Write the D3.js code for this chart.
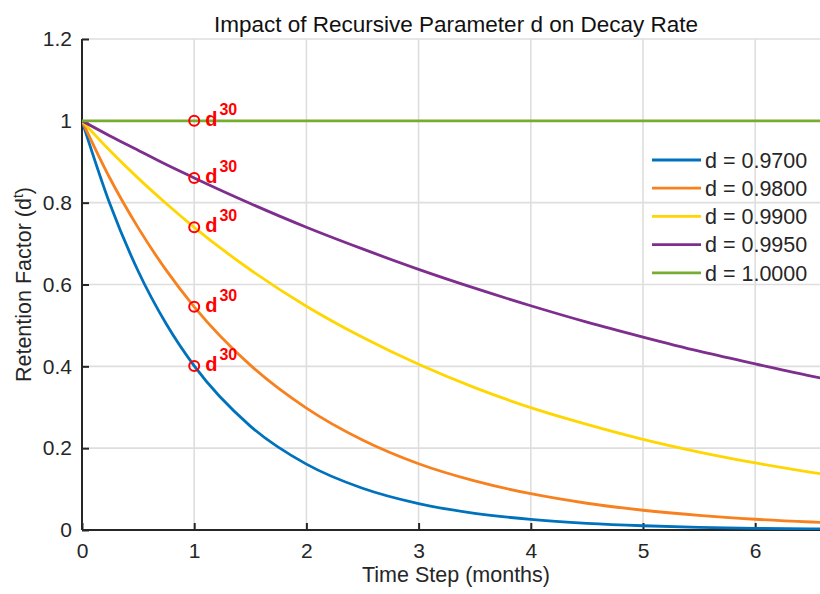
<!DOCTYPE html>
<html>
<head>
<meta charset="utf-8">
<script src="https://cdn.jsdelivr.net/npm/d3@7"></script>
<style>
  html, body { margin: 0; padding: 0; background: #fff; }
  svg { display: block; font-family: "Liberation Sans", Arial, sans-serif; }
</style>
</head>
<body>
<div id="chart"></div>
<script>
// time axis in months (t = 30 * months, days)
const months = [0, 0.25, 0.5, 0.75, 1, 1.5, 2, 2.5, 3, 3.5, 4, 4.5, 5, 5.5, 6, 6.5, 6.667];

// retention factor d^t
const d0970 = [1, 0.796, 0.633, 0.504, 0.401, 0.254, 0.161, 0.102, 0.0645, 0.0408, 0.0259, 0.0164, 0.0104, 0.0066, 0.0042, 0.0026, 0.0023];
const d0980 = [1, 0.859, 0.739, 0.635, 0.5455, 0.403, 0.298, 0.220, 0.162, 0.120, 0.0886, 0.0654, 0.0483, 0.0357, 0.0263, 0.0195, 0.0176];
const d0990 = [1, 0.927, 0.860, 0.798, 0.7397, 0.636, 0.547, 0.471, 0.405, 0.348, 0.299, 0.258, 0.2215, 0.1905, 0.164, 0.141, 0.134];
const d0995 = [1, 0.963, 0.928, 0.893, 0.8604, 0.798, 0.740, 0.687, 0.637, 0.591, 0.548, 0.508, 0.4715, 0.437, 0.406, 0.376, 0.367];
const d1000 = [1, 1, 1, 1, 1, 1, 1, 1, 1, 1, 1, 1, 1, 1, 1, 1, 1];

const seriesNames = ["d = 0.9700", "d = 0.9800", "d = 0.9900", "d = 0.9950", "d = 1.0000"];
const seriesValues = [d0970, d0980, d0990, d0995, d1000];
const seriesColors = ["#0072BD", "#F7811E", "#FFD600", "#7E2F8E", "#77AC30"];

// d^30 markers at month 1
const markerMonth = 1;
const markerValues = [0.401, 0.5455, 0.7397, 0.8604, 1];

const xTicks = [0, 1, 2, 3, 4, 5, 6];
const yTicks = [0, 0.2, 0.4, 0.6, 0.8, 1, 1.2];

const width = 820;
const height = 594;
const plotLeft = 82;
const plotRight = 830;
const plotTop = 39;
const plotBottom = 530;

const x = d3.scaleLinear().domain([0, 20 / 3]).range([plotLeft, plotRight]);
const y = d3.scaleLinear().domain([0, 1.2]).range([plotBottom, plotTop]);

const svg = d3
  .select("#chart")
  .append("svg")
  .attr("width", width)
  .attr("height", height);

svg.append("defs")
  .append("clipPath")
  .attr("id", "plot_clip")
  .append("rect")
  .attr("x", plotLeft)
  .attr("y", plotTop - 2)
  .attr("width", plotRight - plotLeft)
  .attr("height", plotBottom - plotTop + 2);

// grid
const grid = svg.append("g").attr("stroke", "#dedede").attr("stroke-width", 1.6);
grid.selectAll("line.gx")
  .data(xTicks.filter(function (d) { return d > 0; }))
  .enter()
  .append("line")
  .attr("class", "gx")
  .attr("x1", function (d) { return x(d); })
  .attr("x2", function (d) { return x(d); })
  .attr("y1", plotTop)
  .attr("y2", plotBottom);
grid.selectAll("line.gy")
  .data(yTicks.filter(function (d) { return d > 0; }))
  .enter()
  .append("line")
  .attr("class", "gy")
  .attr("x1", plotLeft)
  .attr("x2", plotRight)
  .attr("y1", function (d) { return y(d); })
  .attr("y2", function (d) { return y(d); });

// axes (MATLAB style, ticks pointing in)
const xAxis = svg.append("g")
  .attr("transform", "translate(0," + plotBottom + ")")
  .call(d3.axisBottom(x).tickValues(xTicks).tickSize(-7).tickPadding(13).tickFormat(d3.format("d")));
const yAxis = svg.append("g")
  .attr("transform", "translate(" + plotLeft + ",0)")
  .call(d3.axisLeft(y).tickValues(yTicks).tickSize(-7).tickPadding(10).tickFormat(function (d) { return d3.format("~g")(d); }));

[xAxis, yAxis].forEach(function (a) {
  a.select(".domain").attr("stroke", "#262626").attr("stroke-width", 2);
  a.selectAll(".tick line").attr("stroke", "#262626").attr("stroke-width", 2);
  a.selectAll(".tick text")
    .attr("fill", "#262626")
    .style("font-family", "'Liberation Sans', Arial, sans-serif")
    .style("font-size", "21px");
});
xAxis.select(".domain").attr("d", "M" + plotLeft + ",0H" + plotRight);
yAxis.select(".domain").attr("d", "M0," + plotBottom + "V" + plotTop);

// curves
const line = d3.line()
  .x(function (d) { return x(d[0]); })
  .y(function (d) { return y(d[1]); })
  .curve(d3.curveMonotoneX);

svg.append("g")
  .attr("clip-path", "url(#plot_clip)")
  .selectAll("path")
  .data(seriesValues)
  .enter()
  .append("path")
  .attr("d", function (vals) {
    return line(months.map(function (m, i) { return [m, vals[i]]; }));
  })
  .attr("fill", "none")
  .attr("stroke", function (d, i) { return seriesColors[i]; })
  .attr("stroke-width", 2.8);

// markers + d^30 labels
const marks = svg.append("g");
marks.selectAll("circle")
  .data(markerValues)
  .enter()
  .append("circle")
  .attr("cx", x(markerMonth))
  .attr("cy", function (d) { return y(d); })
  .attr("r", 5)
  .attr("fill", "none")
  .attr("stroke", "#ff0000")
  .attr("stroke-width", 2);

const labels = marks.selectAll("text")
  .data(markerValues)
  .enter()
  .append("text")
  .attr("x", x(markerMonth) + 11)
  .attr("y", function (d) { return y(d) + 5; })
  .attr("fill", "#ff0000")
  .attr("font-weight", "bold")
  .attr("font-size", "20px");
labels.append("tspan").text("d");
labels.append("tspan")
  .attr("dx", 2)
  .attr("dy", -11)
  .attr("font-size", "16px")
  .text("30");

// legend
const legend = svg.append("g").attr("transform", "translate(652,160)");
const items = legend.selectAll("g")
  .data(seriesNames)
  .enter()
  .append("g")
  .attr("transform", function (d, i) { return "translate(0," + i * 28.2 + ")"; });
items.append("line")
  .attr("x1", 0)
  .attr("x2", 49)
  .attr("stroke", function (d, i) { return seriesColors[i]; })
  .attr("stroke-width", 2.8);
items.append("text")
  .attr("x", 53)
  .attr("dy", "0.36em")
  .attr("font-size", "21.5px")
  .attr("fill", "#262626")
  .text(function (d) { return d; });

// titles
svg.append("text")
  .attr("x", (plotLeft + plotRight) / 2)
  .attr("y", 32)
  .attr("text-anchor", "middle")
  .attr("font-size", "22.5px")
  .attr("fill", "#111")
  .text("Impact of Recursive Parameter d on Decay Rate");

svg.append("text")
  .attr("x", (plotLeft + plotRight) / 2)
  .attr("y", 582)
  .attr("text-anchor", "middle")
  .attr("font-size", "21.5px")
  .attr("fill", "#262626")
  .text("Time Step (months)");

const ylab = svg.append("text")
  .attr("transform", "translate(31," + (plotTop + plotBottom) / 2 + ") rotate(-90)")
  .attr("text-anchor", "middle")
  .attr("font-size", "21.5px")
  .attr("fill", "#262626");
ylab.append("tspan").text("Retention Factor (d");
ylab.append("tspan").attr("dy", -8).attr("font-size", "14px").text("t");
ylab.append("tspan").attr("dy", 8).text(")");
</script>
</body>
</html>
